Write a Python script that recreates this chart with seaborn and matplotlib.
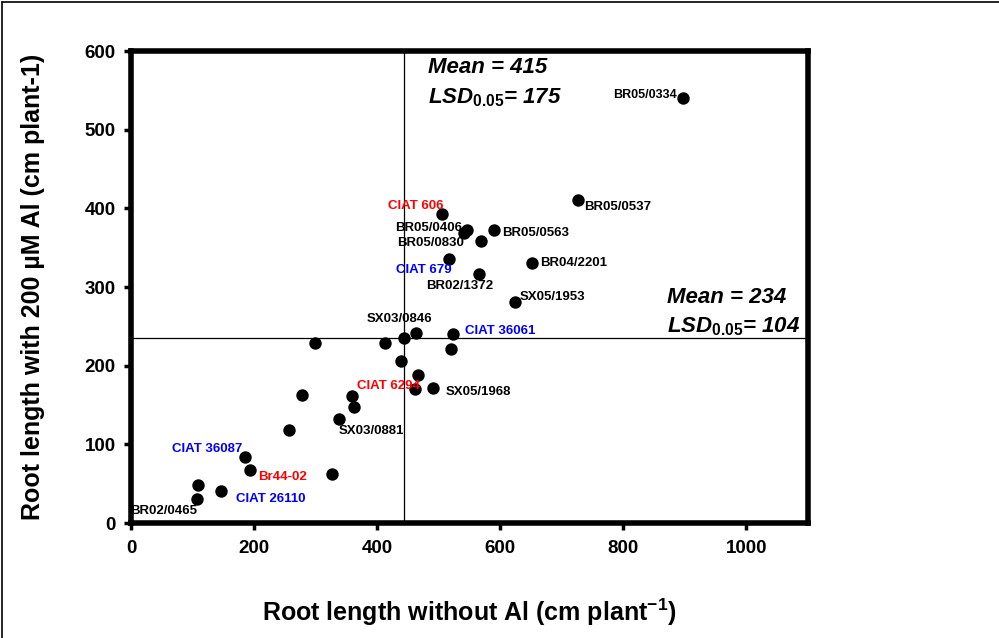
import matplotlib
matplotlib.use("Agg")
import matplotlib.pyplot as plt
import seaborn as sns
import pandas as pd
from matplotlib.lines import Line2D

# ---- data ----
genotype = ["BR05/0334", "BR05/0537", "CIAT 606", "BR05/0406", "", "BR05/0563",
            "BR05/0830", "CIAT 679", "BR04/2201", "BR02/1372", "SX05/1953", "",
            "", "SX03/0846", "", "CIAT 36061", "", "", "", "CIAT 6294",
            "SX05/1968", "", "", "", "SX03/0881", "", "CIAT 36087", "Br44-02",
            "", "", "CIAT 26110", "BR02/0465"]
root_without_al = [897, 726, 506, 546, 541, 590, 568, 517, 651, 565, 624, 299,
                   412, 444, 463, 523, 520, 438, 466, 462, 490, 278, 359, 362,
                   338, 257, 185, 193, 327, 109, 146, 107]
root_with_al = [540, 410, 393, 373, 369, 372, 358, 335, 331, 316, 281, 229,
                229, 235, 241, 240, 221, 206, 188, 170, 171, 163, 162, 148,
                132, 118, 84, 68, 62, 48, 41, 30]
label_kind = ["line", "line", "red", "line", "", "line", "line", "blue", "line",
              "line", "line", "", "", "line", "", "blue", "", "", "", "red",
              "line", "", "", "", "line", "", "blue", "red", "", "", "blue", "line"]
ref_x = 444
ref_y = 235
x_ticks = [0, 200, 400, 600, 800, 1000]
y_ticks = [0, 100, 200, 300, 400, 500, 600]
x_label = "Root length without Al (cm plant$^{\\mathbf{-1}}$)"
y_label = "Root length with 200 µM Al (cm plant-1)"
mean_x_text = ["Mean = 415", "175"]
mean_y_text = ["Mean = 234", "104"]

# ---- style ----
label_colors = {"line": "black", "red": "#ff0000", "blue": "#0000ff"}
# label placement: (ha, dx_px, dy_px)
label_pos = {
    "BR05/0334": ("right", -6, 3), "BR05/0537": ("left", 6, -7),
    "CIAT 606": ("right", 1, 8), "BR05/0406": ("right", -5, 2),
    "BR05/0563": ("left", 8, -3), "BR05/0830": ("right", -17, -2),
    "CIAT 679": ("right", 2, -10.5), "BR04/2201": ("left", 8, 0),
    "BR02/1372": ("right", 15, -12), "SX05/1953": ("left", 5, 5),
    "SX03/0846": ("center", -5, 19), "CIAT 36061": ("left", 12, 3),
    "CIAT 6294": ("right", 5, 3), "SX05/1968": ("left", 13, -3.5),
    "SX03/0881": ("left", 0, -12), "CIAT 36087": ("right", -2, 8),
    "Br44-02": ("left", 8, -7.5), "CIAT 26110": ("left", 15, -8),
    "BR02/0465": ("right", 0, -11.6),
}

sns.set_theme(style="white")
plt.rcParams["font.family"] = ["Liberation Sans", "DejaVu Sans"]
plt.rcParams["mathtext.fontset"] = "custom"
plt.rcParams["mathtext.rm"] = "Liberation Sans:bold"
plt.rcParams["mathtext.bf"] = "Liberation Sans:bold"
plt.rcParams["mathtext.it"] = "Liberation Sans:bold:italic"
for key in ["text.color", "axes.labelcolor", "xtick.color", "ytick.color",
            "xtick.labelcolor", "ytick.labelcolor"]:
    plt.rcParams[key] = "black"

DPI = 100
fig = plt.figure(figsize=(9.99, 6.38), dpi=DPI)
L, R, B, T = 131, 808, 523, 51
W, H = 999, 638
ax = fig.add_axes([L / W, 1 - B / H, (R - L) / W, (B - T) / H])

df = pd.DataFrame({"x": root_without_al, "y": root_with_al, "g": genotype, "k": label_kind})
sns.scatterplot(data=df, x="x", y="y", ax=ax, color="black", s=80,
                edgecolor="black", linewidth=0, zorder=3, clip_on=False)

ax.axvline(ref_x, color="black", lw=0.9, zorder=1)
ax.axhline(ref_y, color="black", lw=0.9, zorder=1)

ax.set_xlim(0, 1100)
ax.set_ylim(0, 600)
ax.set_xticks(x_ticks)
ax.set_yticks(y_ticks)
ax.set_xticklabels([str(v) for v in x_ticks], fontsize=13.5, fontweight="bold")
ax.set_yticklabels([str(v) for v in y_ticks], fontsize=13.5, fontweight="bold")
ax.tick_params(axis="x", direction="out", length=5, width=2.5, pad=7, color="black", bottom=True)
ax.tick_params(axis="y", direction="out", length=5, width=2.5, pad=6, color="black", left=True)

for s in ax.spines.values():
    s.set_visible(True)
    s.set_color("black")
    s.set_linewidth(4)
    s.set_capstyle("projecting")

ax.set_xlabel(x_label, fontsize=18, fontweight="bold", color="black")
ax.set_ylabel(y_label, fontsize=18, fontweight="bold", color="black")
ax.xaxis.set_label_coords(0.50, -0.155)
ax.yaxis.set_label_coords(-0.127, 0.5)

px2pt = 72.0 / DPI
for gx, gy, name, kind in zip(root_without_al, root_with_al, genotype, label_kind):
    if not name:
        continue
    ha, dx, dy = label_pos[name]
    fs = 9 if name == "BR05/0334" else 9.5
    ax.annotate(name, (gx, gy), xytext=(dx * px2pt, dy * px2pt), textcoords="offset points",
                ha=ha, va="center", fontsize=fs, fontweight="bold",
                color=label_colors[kind], zorder=4, annotation_clip=False)

def mean_block(xf, yf_mean, yf_lsd, texts):
    ax.text(xf, yf_mean, texts[0], transform=ax.transAxes, fontsize=16, color="black",
            fontweight="bold", fontstyle="italic", va="baseline", ha="left")
    ax.text(xf, yf_lsd, r"$\mathit{LSD}_{\mathit{0.05}}$" + "= " + texts[1],
            transform=ax.transAxes, fontsize=16, fontweight="bold", color="black",
            fontstyle="italic", va="baseline", ha="left")

mean_block(0.4387, 0.953, 0.890, mean_x_text)
mean_block(0.792, 0.466, 0.403, mean_y_text)

# outer frame (left and top edges visible)
fig.add_artist(Line2D([2 / W, 2 / W], [0, 1 - 2 / H], color="black", lw=1.2))
fig.add_artist(Line2D([2 / W, 1], [1 - 2 / H, 1 - 2 / H], color="black", lw=1.2))

fig.savefig("out.png", dpi=DPI, facecolor="white")
